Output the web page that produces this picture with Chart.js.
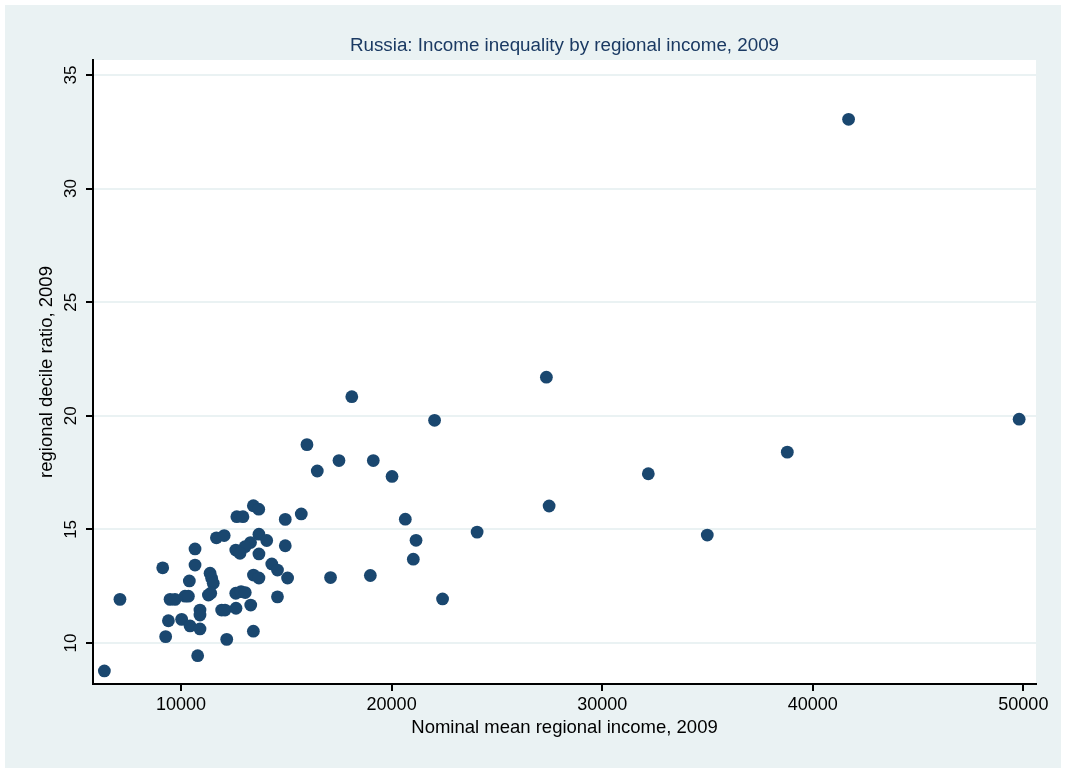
<!DOCTYPE html>
<html>
<head>
<meta charset="utf-8">
<script src="https://cdn.jsdelivr.net/npm/chart.js@4.4.1/dist/chart.umd.min.js"></script>
<style>
  html, body { margin: 0; padding: 0; background: #ffffff; }
  #wrap { width: 1065px; height: 771px; }
</style>
</head>
<body>
<div id="wrap"><canvas id="chart" width="1065" height="771"></canvas></div>
<script>
// Nominal mean regional income (roubles), 2009
const income = [
  41700, 49800, 27350, 18110, 22040, 15980, 38790, 17500, 19130, 16470,
  20020, 32190, 27480, 20650, 24060, 34990, 21160, 21030, 17100, 18990,
  22420,
  15710, 14950, 14950, 15060, 14580, 13435, 13690, 12650, 12940, 11680,
  12050, 13700, 14070, 13300, 13040, 12600, 12800, 13700, 14310, 14580,
  13440, 13700,
  10665, 9130, 10665, 10395, 11380, 11455, 11530, 11300, 11410,
  12600, 12850, 13050, 11930, 12090, 12610, 13310, 13435, 12170,
  7100, 9480, 9715, 10190, 10350, 10900, 10900, 9400, 10030, 10430,
  10900, 9270, 10790, 6360
];

// Regional decile ratio, 2009
const decileRatio = [
  33.05, 19.85, 21.70, 20.84, 19.80, 18.73, 18.40, 18.03, 18.03, 17.57,
  17.33, 17.45, 16.03, 15.45, 14.88, 14.75, 14.52, 13.69, 12.88, 12.97,
  11.94,
  15.68, 15.44, 14.28, 12.86, 12.03, 16.04, 15.89, 15.56, 15.56, 14.63,
  14.73, 14.79, 14.51, 14.42, 14.24, 14.09, 13.95, 13.92, 13.48, 13.21,
  12.99, 12.86,
  14.14, 13.31, 13.43, 12.73, 13.07, 12.85, 12.63, 12.11, 12.19,
  12.19, 12.26, 12.22, 11.45, 11.45, 11.53, 11.67, 10.52, 10.16,
  11.92, 11.92, 11.92, 12.06, 12.06, 11.45, 11.23, 10.98, 11.04, 10.75,
  10.62, 10.28, 9.44, 8.77
];

const xTicks = [10000, 20000, 30000, 40000, 50000];
const yTicks = [10, 15, 20, 25, 30, 35];

const titleText = 'Russia: Income inequality by regional income, 2009';
const xTitle = 'Nominal mean regional income, 2009';
const yTitle = 'regional decile ratio, 2009';

const NAVY = '#1A476F';
const TITLE_NAVY = '#1B3A63';
const REGION_BG = '#EAF2F3';
const FONT = "'Liberation Sans', Arial, Helvetica, sans-serif";

const points = income.map((x, i) => ({ x: x, y: decileRatio[i] }));

// Graph region fill and white plot region
const backdrop = {
  id: 'backdrop',
  beforeDraw(chart) {
    const { ctx, chartArea: a } = chart;
    ctx.save();
    ctx.fillStyle = '#ffffff';
    ctx.fillRect(0, 0, chart.width, chart.height);
    ctx.fillStyle = REGION_BG;
    ctx.fillRect(5, 5, chart.width - 9, chart.height - 8);
    ctx.fillStyle = '#ffffff';
    ctx.fillRect(a.left, a.top, a.right - a.left, a.bottom - a.top);
    ctx.restore();
  }
};

// Chart title centred over the plot region, and vertical y tick labels
const annotations = {
  id: 'annotations',
  afterDraw(chart) {
    const { ctx, chartArea: a } = chart;
    const ys = chart.scales.y;
    ctx.save();
    ctx.fillStyle = TITLE_NAVY;
    ctx.font = '18.8px ' + FONT;
    ctx.textAlign = 'center';
    ctx.textBaseline = 'middle';
    ctx.fillText(titleText, (a.left + a.right) / 2, 45.6);

    ctx.fillStyle = '#000000';
    ctx.font = '17px ' + FONT;
    ctx.textAlign = 'center';
    ctx.textBaseline = 'alphabetic';
    yTicks.forEach(v => {
      ctx.save();
      ctx.translate(76, ys.getPixelForValue(v));
      ctx.rotate(-Math.PI / 2);
      ctx.fillText(String(v), 0, 0);
      ctx.restore();
    });
    ctx.restore();
  }
};

new Chart(document.getElementById('chart'), {
  type: 'scatter',
  data: {
    datasets: [{
      data: points,
      backgroundColor: NAVY,
      borderColor: NAVY,
      borderWidth: 0,
      pointRadius: 6.4,
      pointHoverRadius: 6.4
    }]
  },
  options: {
    responsive: false,
    animation: false,
    devicePixelRatio: 1,
    layout: { padding: { left: 5, right: 29, top: 60, bottom: 3 } },
    plugins: {
      legend: { display: false },
      tooltip: { enabled: false },
      title: { display: false }
    },
    scales: {
      x: {
        type: 'linear',
        min: 5820,
        max: 50600,
        afterBuildTicks: s => { s.ticks = xTicks.map(v => ({ value: v })); },
        afterFit: s => { s.height = 84; },
        border: { display: true, color: '#000000', width: 2 },
        grid: {
          drawOnChartArea: false,
          drawTicks: true,
          tickLength: 7,
          tickColor: '#000000',
          lineWidth: 2
        },
        ticks: {
          color: '#000000',
          font: { family: FONT, size: 18 },
          padding: 3,
          maxRotation: 0,
          callback: v => String(v)
        },
        title: {
          display: true,
          text: xTitle,
          color: '#000000',
          font: { family: FONT, size: 18.5 },
          padding: { top: 0, bottom: 29.4 }
        }
      },
      y: {
        type: 'linear',
        min: 8.195,
        max: 35.66,
        afterBuildTicks: s => { s.ticks = yTicks.map(v => ({ value: v })); },
        afterFit: s => { s.width = 88; },
        border: { display: true, color: '#000000', width: 2 },
        grid: {
          color: REGION_BG,
          lineWidth: 2,
          drawTicks: true,
          tickLength: 7,
          tickColor: '#000000'
        },
        ticks: { display: false },
        title: {
          display: true,
          text: yTitle,
          color: '#000000',
          font: { family: FONT, size: 18.5 },
          padding: { top: 30.9, bottom: 0 }
        }
      }
    }
  },
  plugins: [backdrop, annotations]
});
</script>
</body>
</html>
